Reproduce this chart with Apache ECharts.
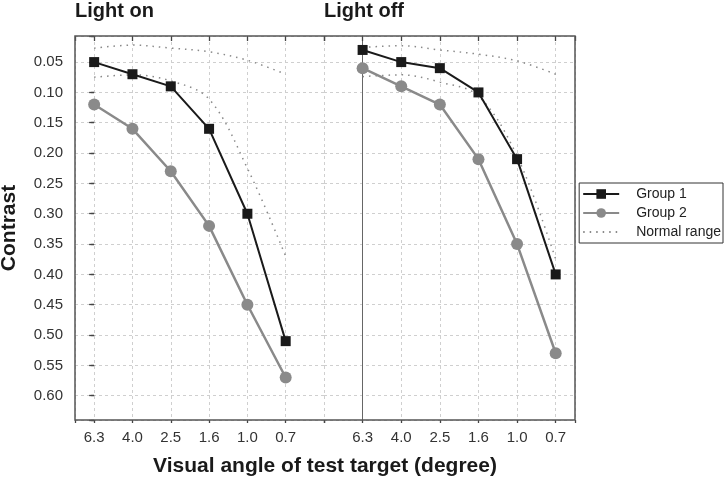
<!DOCTYPE html>
<html>
<head>
<meta charset="utf-8">
<script src="https://cdn.jsdelivr.net/npm/echarts@6/dist/echarts.min.js"></script>
<style>
  html, body { margin: 0; padding: 0; background: #fff; }
  #chart { width: 725px; height: 479px; }
</style>
</head>
<body>
<div id="chart"></div>
<script>
// visual angle of the test target, in degrees
const angles = ['6.3', '4.0', '2.5', '1.6', '1.0', '0.7']

// Light on
const onGroup1 = [0.05, 0.07, 0.09, 0.16, 0.30, 0.51]
const onGroup2 = [0.12, 0.16, 0.23, 0.32, 0.45, 0.57]
const onNormalUpper = [0.027, 0.022, 0.027, 0.033, 0.047, 0.07]
const onNormalLower = [0.075, 0.071, 0.081, 0.111, 0.225, 0.37]

// Light off
const offGroup1 = [0.03, 0.05, 0.06, 0.10, 0.21, 0.40]
const offGroup2 = [0.06, 0.09, 0.12, 0.21, 0.35, 0.53]
const offNormalUpper = [0.026, 0.023, 0.03, 0.037, 0.048, 0.07]
const offNormalLower = [0.074, 0.071, 0.083, 0.106, 0.205, 0.375]

const font = "'Liberation Sans', Arial, sans-serif"
const toPoints = (arr) => arr.map((v, i) => [i, v])

const chart = echarts.init(document.getElementById('chart'))

const gridLine = { show: true, lineStyle: { color: '#cfcfcf', type: [3, 3], width: 1 } }
const tickLine = { color: '#444', width: 1.3 }
const xLabel = (v) => (Number.isInteger(v) && angles[v] !== undefined ? angles[v] : '')
const yLabel = (v) => (Math.abs(v * 20 - Math.round(v * 20)) < 1e-6 ? v.toFixed(2) : '')

// min/maxInterval pin the step while keeping ticks on round values
const leftX = { type: 'value', gridIndex: 0, min: -0.5, max: 6, minInterval: 1, maxInterval: 1 }
const rightX = { type: 'value', gridIndex: 1, min: -1, max: 5.5, minInterval: 1, maxInterval: 1 }
const yRange = { type: 'value', inverse: true, min: 0.007, max: 0.64, minInterval: 0.05, maxInterval: 0.05 }
const bare = { axisLine: { show: false }, axisLabel: { show: false }, splitLine: { show: false } }

const g1Style = (xi) => ({
  name: 'Group 1', type: 'line', xAxisIndex: xi, yAxisIndex: xi,
  symbol: 'rect', symbolSize: 10,
  lineStyle: { color: '#1a1a1a', width: 2 },
  itemStyle: { color: '#1a1a1a' }, z: 4
})
const g2Style = (xi) => ({
  name: 'Group 2', type: 'line', xAxisIndex: xi, yAxisIndex: xi,
  symbol: 'circle', symbolSize: 12,
  lineStyle: { color: '#8a8a8a', width: 2.5 },
  itemStyle: { color: '#8a8a8a' }, z: 3
})
const normStyle = (xi) => ({
  name: 'Normal range', type: 'line', xAxisIndex: xi, yAxisIndex: xi,
  symbol: 'none', smooth: 0.35,
  lineStyle: { color: '#8a8a8a', width: 1.5, type: [1.5, 5] },
  itemStyle: { color: '#8a8a8a' }, z: 2
})

const option = {
  animation: false,
  backgroundColor: '#fff',
  title: [
    { text: 'Light on', left: 75, top: 1, padding: 0, textStyle: { fontSize: 20, fontWeight: 'bold', color: '#1a1a1a', fontFamily: font } },
    { text: 'Light off', left: 324, top: 1, padding: 0, textStyle: { fontSize: 20, fontWeight: 'bold', color: '#1a1a1a', fontFamily: font } }
  ],
  legend: {
    orient: 'vertical',
    right: 2,
    top: 183,
    padding: [4, 2, 4, 3],
    itemGap: 5,
    itemWidth: 36,
    itemHeight: 12,
    borderColor: '#333',
    borderWidth: 1,
    data: ['Group 1', 'Group 2', { name: 'Normal range', itemStyle: { opacity: 0 } }],
    textStyle: { fontSize: 14, color: '#222', fontFamily: font, padding: [0, 0, 0, 12] }
  },
  grid: [
    { left: 75, top: 36, width: 249, height: 384, outerBoundsMode: 'none' },
    { left: 324, top: 36, width: 251, height: 384, outerBoundsMode: 'none' },
    { left: 75, top: 36, width: 500, height: 384, outerBoundsMode: 'none', show: true, borderColor: '#555', borderWidth: 1.5, z: 10 }
  ],
  xAxis: [
    // 0, 1: panel axes with labels, outer tick stubs and grid lines
    Object.assign({}, leftX, {
      axisLine: { show: false },
      axisTick: { show: true, length: 3, lineStyle: tickLine },
      axisLabel: { formatter: xLabel, margin: 10, fontSize: 15, color: '#333', fontFamily: font },
      splitLine: gridLine
    }),
    Object.assign({}, rightX, {
      axisLine: { show: false },
      axisTick: { show: true, length: 3, lineStyle: tickLine },
      axisLabel: { formatter: xLabel, margin: 10, fontSize: 15, color: '#333', fontFamily: font },
      splitLine: gridLine
    }),
    // 2: frame axis, carries the title
    {
      gridIndex: 2, type: 'value', min: 0, max: 1,
      name: 'Visual angle of test target (degree)',
      nameLocation: 'middle', nameGap: 36,
      nameTextStyle: { fontSize: 21, fontWeight: 'bold', color: '#1a1a1a', fontFamily: font },
      axisLine: { show: false }, axisTick: { show: false }, axisLabel: { show: false }, splitLine: { show: false }
    },
    // 3, 4: inner tick stubs
    Object.assign({}, leftX, bare, { axisTick: { show: true, inside: true, length: 5, lineStyle: tickLine } }),
    Object.assign({}, rightX, bare, { axisTick: { show: true, inside: true, length: 5, lineStyle: tickLine } })
  ],
  yAxis: [
    Object.assign({}, yRange, {
      gridIndex: 0,
      axisLine: { show: false },
      axisTick: { show: true, length: 3, lineStyle: tickLine },
      axisLabel: { formatter: yLabel, margin: 12, fontSize: 15, color: '#333', fontFamily: font },
      splitLine: gridLine
    }),
    Object.assign({}, yRange, {
      gridIndex: 1,
      axisLine: { show: true, lineStyle: { color: '#666', width: 1 } },
      axisTick: { show: false },
      axisLabel: { show: false },
      splitLine: gridLine
    }),
    {
      gridIndex: 2, type: 'value', min: 0, max: 1,
      name: 'Contrast',
      nameLocation: 'middle', nameGap: 55, nameRotate: 90,
      nameTextStyle: { fontSize: 21, fontWeight: 'bold', color: '#1a1a1a', fontFamily: font },
      axisLine: { show: false }, axisTick: { show: false }, axisLabel: { show: false }, splitLine: { show: false }
    },
    Object.assign({}, yRange, bare, { gridIndex: 0, axisTick: { show: true, inside: true, length: 5, lineStyle: tickLine } })
  ],
  series: [
    Object.assign(normStyle(0), { data: toPoints(onNormalUpper) }),
    Object.assign(normStyle(0), { data: toPoints(onNormalLower) }),
    Object.assign(g1Style(0), { data: toPoints(onGroup1) }),
    Object.assign(g2Style(0), { data: toPoints(onGroup2) }),
    Object.assign(normStyle(1), { data: toPoints(offNormalUpper) }),
    Object.assign(normStyle(1), { data: toPoints(offNormalLower) }),
    Object.assign(g1Style(1), { data: toPoints(offGroup1) }),
    Object.assign(g2Style(1), { data: toPoints(offGroup2) })
  ]
}

chart.setOption(option)
</script>
</body>
</html>
